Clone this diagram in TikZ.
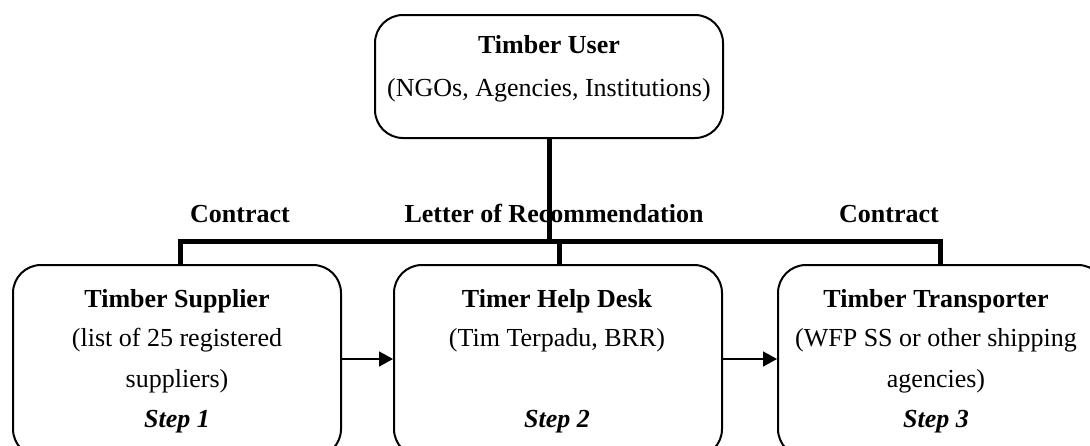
\documentclass[tikz,border=0pt]{standalone}
\usepackage{fontspec}
\setmainfont{Liberation Serif}
\usetikzlibrary{arrows.meta}
\tikzset{
  box/.style={draw, line width=2pt, rounded corners=28pt, inner sep=0pt},
  txt/.style={anchor=base, inner sep=0pt, font=\fontsize{26}{30}\selectfont},
  trunk/.style={line width=5pt, line join=miter},
  flow/.style={line width=1.6pt, -{Triangle[length=14pt, width=15pt]}},
}
\begin{document}
\begin{tikzpicture}[x=1pt, y=-1pt]
\useasboundingbox (0,0) rectangle (1090,445);
\clip (0,0) rectangle (1090,445);

% boxes
\node[box, minimum width=348pt, minimum height=123pt] (user) at (549,76.5) {};
\node[box, minimum width=328pt, minimum height=192pt] (sup)  at (177,361) {};
\node[box, minimum width=328pt, minimum height=192pt] (help) at (558,361) {};
\node[box, minimum width=328pt, minimum height=192pt] (tran) at (942,361) {};

% box texts
\node[txt] (userA) at (549,53) {\textbf{Timber User}};
\node[txt] (userB) at (549,96) {(NGOs, Agencies, Institutions)};

\node[txt] (supA) at (177,307) {\textbf{Timber Supplier}};
\node[txt] (supB) at (177,346) {(list of 25 registered};
\node[txt] (supC) at (177,387) {suppliers)};
\node[txt] (supD) at (177,427) {\textbf{\itshape Step 1}};

\node[txt] (helpA) at (557,307) {\textbf{Timer Help Desk}};
\node[txt] (helpB) at (557,346) {(Tim Terpadu, BRR)};
\node[txt] (helpD) at (557,427) {\textbf{\itshape Step 2}};

\node[txt] (tranA) at (936,307) {\textbf{Timber Transporter}};
\node[txt] (tranB) at (936,346) {(WFP SS or other shipping};
\node[txt] (tranC) at (936,387) {agencies)};
\node[txt] (tranD) at (936,427) {\textbf{\itshape Step 3}};

% relation labels
\node[txt] (lc1) at (240,222) {\textbf{Contract}};
\node[txt] (lrec) at (554,222) {\textbf{Letter of Recommendation}};
\node[txt] (lc2) at (889,222) {\textbf{Contract}};

% connecting tree
\coordinate (bar) at (549,241.5);
\draw[trunk] (user.south) -- (user.south |- bar);
\draw[trunk] ([xshift=3pt]sup.north) |- (bar) -| ([xshift=-2pt]tran.north);
\draw[trunk] ([xshift=1pt]help.north) -- ([xshift=1pt]help.north |- bar);

% step flow
\draw[flow] (sup.east |- 0,359) -- (help.west |- 0,359);
\draw[flow] (help.east |- 0,359) -- (tran.west |- 0,359);
\end{tikzpicture}
\end{document}
